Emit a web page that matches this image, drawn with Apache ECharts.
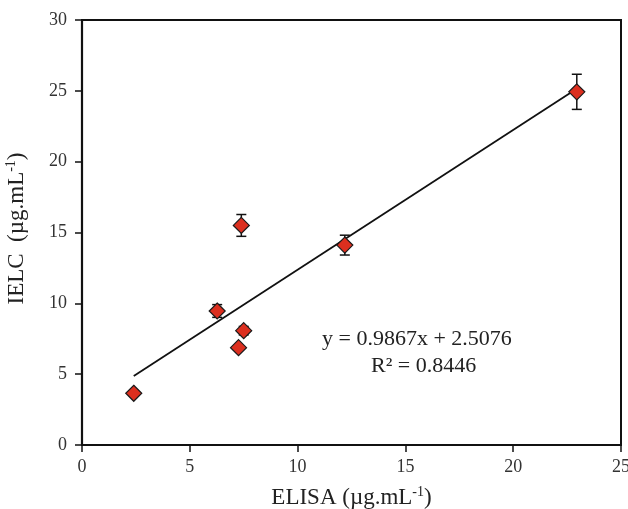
<!DOCTYPE html>
<html><head><meta charset="utf-8">
<script src="https://cdn.jsdelivr.net/npm/echarts@6/dist/echarts.min.js"></script>
<style>html,body{margin:0;padding:0;background:#fff}#c{width:628px;height:509px}</style>
</head><body><div id="c"></div>
<script>
var elisa = [2.4, 6.27, 7.39, 7.5, 7.26, 12.19, 22.95];
var ielc = [3.65, 9.46, 15.5, 8.07, 6.87, 14.11, 24.93];
var ielcErr = [0, 0.45, 0.77, 0.3, 0, 0.7, 1.24];
var trendX = [2.4, 23.0];
var trendY = [4.876, 25.202];
var xTicks = [0, 5, 10, 15, 20, 25];
var yTicks = [0, 5, 10, 15, 20, 25, 30];
var eqText = 'y = 0.9867x + 2.5076';
var r2Text = 'R² = 0.8446';

var font = 'Liberation Serif';
var chart = echarts.init(document.getElementById('c'));
var pts = elisa.map(function(x,i){return [x, ielc[i]];});
var errData = elisa.map(function(x,i){return [x, ielc[i]-ielcErr[i], ielc[i]+ielcErr[i]];});
var trend = trendX.map(function(x,i){return [x, trendY[i]];});
var supRich = {s:{fontFamily:font, fontSize:14, color:'#222', verticalAlign:'top', padding:[0,0,11,0]}};
chart.setOption({
  animation:false,
  grid:{left:82, top:20, right:7, bottom:64, outerBoundsMode:'none', containLabel:false, show:true, borderColor:'#111', borderWidth:2, backgroundColor:'transparent'},
  xAxis:{type:'value', min:0, max:25, interval:5,
    axisLine:{show:true, onZero:false, lineStyle:{color:'#111', width:2.2}},
    axisTick:{show:true, length:7, inside:false, lineStyle:{color:'#111', width:1.5}},
    axisLabel:{fontFamily:font, fontSize:18, color:'#333', margin:13},
    splitLine:{show:false},
    name:'ELISA (µg.mL{s|-1})', nameLocation:'middle', nameGap:40,
    nameTextStyle:{fontFamily:font, fontSize:23, color:'#222', rich:supRich}
  },
  yAxis:{type:'value', min:0, max:30, interval:5,
    axisLine:{show:true, onZero:false, lineStyle:{color:'#111', width:2.2}},
    axisTick:{show:true, length:7, inside:false, lineStyle:{color:'#111', width:1.5}},
    axisLabel:{fontFamily:font, fontSize:18, color:'#333', margin:15},
    splitLine:{show:false},
    name:'IELC  (µg.mL{s|-1})', nameLocation:'middle', nameGap:53, nameRotate:90,
    nameTextStyle:{fontFamily:font, fontSize:23, color:'#222', rich:supRich, padding:[0,0,0,8]}
  },
  series:[
    {type:'line', data:trend, symbol:'none', lineStyle:{color:'#111', width:1.8}, z:2},
    {type:'custom', z:3, data:errData,
      renderItem:function(params, api){
        var x = api.value(0), lo = api.value(1), hi = api.value(2);
        if (hi - lo < 0.01) return null;
        var p1 = api.coord([x, lo]), p2 = api.coord([x, hi]);
        var w = 5;
        var st = {stroke:'#111', lineWidth:1.5};
        return {type:'group', children:[
          {type:'line', shape:{x1:p1[0], y1:p1[1], x2:p2[0], y2:p2[1]}, style:st},
          {type:'line', shape:{x1:p1[0]-w, y1:p1[1], x2:p1[0]+w, y2:p1[1]}, style:st},
          {type:'line', shape:{x1:p2[0]-w, y1:p2[1], x2:p2[0]+w, y2:p2[1]}, style:st}
        ]};
      }
    },
    {type:'scatter', data:pts, symbol:'diamond', symbolSize:[16,16], z:4,
      itemStyle:{color:'#dc2f1f', borderColor:'#1a1a1a', borderWidth:1.2, opacity:1}}
  ],
  graphic:[
    {type:'text', left:322, top:328, style:{text:eqText, fontFamily:font, fontSize:22, fill:'#222'}},
    {type:'text', left:371, top:355, style:{text:r2Text, fontFamily:font, fontSize:22, fill:'#222'}}
  ]
});
</script></body></html>
